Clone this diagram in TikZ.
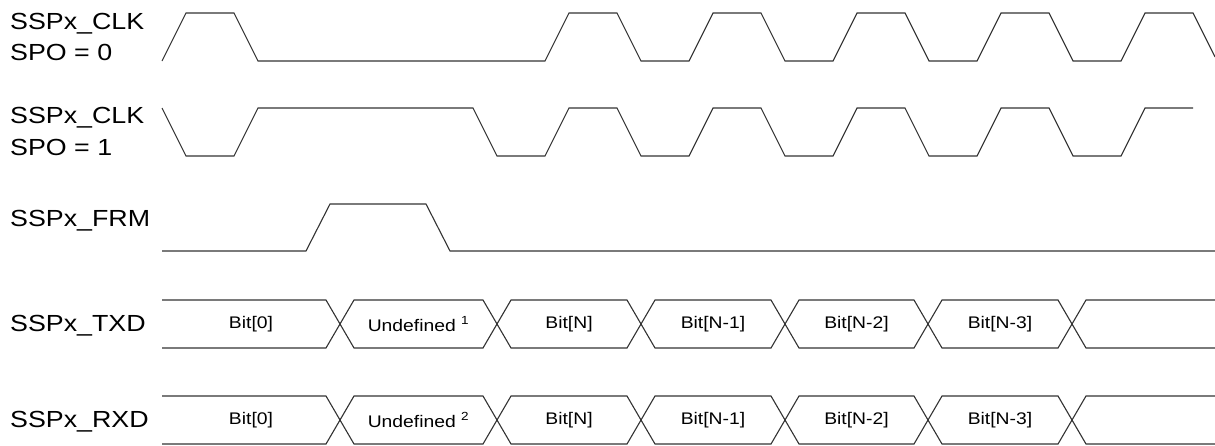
\documentclass[tikz,border=0pt]{standalone}
\usepackage{fontspec}
\setmainfont[FakeStretch=1.15]{Liberation Sans}

\begin{document}
\begin{tikzpicture}[x=1pt, y=-1pt,
    wave/.style={draw=black!80, line width=1.1pt, line join=miter},
    signame/.style={anchor=base west, inner sep=0pt,
      font=\fontsize{23.3}{28}\selectfont},
    bitname/.style={inner sep=0pt, font=\fontsize{16.8}{17}\selectfont}
  ]
  \useasboundingbox (0,0) rectangle (1215,445);

  \node[signame] (clk0) at (10,29.5) {SSPx\_CLK};
  \node[signame] (spo0) at (10,60) {SPO = 0};
  \node[signame] (clk1) at (10,123.5) {SSPx\_CLK};
  \node[signame] (spo1) at (10,155) {SPO = 1};
  \node[signame] (frm) at (10,226) {SSPx\_FRM};

  \draw[wave] (162,61) -- (186,13) -- (234,13) -- (258,61) -- (545,61)
    \foreach \r in {545,689,833,977} {
      -- (\r+24,13) -- (\r+72,13) -- (\r+96,61) -- (\r+144,61) }
    -- (1145,13) -- (1193,13) -- (1215,57);

  \draw[wave] (162,108) -- (186,156) -- (234,156) -- (258,108) -- (473,108)
    -- (497,156) -- (545,156)
    \foreach \r in {545,689,833,977} {
      -- (\r+24,108) -- (\r+72,108) -- (\r+96,156) -- (\r+144,156) }
    -- (1145,108) -- (1193,108);

  \draw[wave] (162,251) -- (306,251) -- (330,204) -- (426,204) -- (450,251)
    -- (1215,251);

  \foreach \y/\row/\lbl/\k in {324/txd/TXD/1, 420/rxd/RXD/2} {
    \node[signame] (\row) at (10,\y+7.5) {SSPx\_\lbl};
    \draw[wave] (162,\y-24) -- (326,\y-24) -- (340,\y) -- (326,\y+24)
      -- (162,\y+24);
    \node[bitname] (\row-0) at (251,\y) {Bit[0]};
    \foreach \a/\b/\t [count=\i] in {340/497/{Undefined \textsuperscript{\k}},
        497/641/{Bit[N]}, 641/785/{Bit[N-1]}, 785/928/{Bit[N-2]},
        928/1072/{Bit[N-3]}} {
      \draw[wave] (\a,\y) -- (\a+14,\y-24) -- (\b-14,\y-24) -- (\b,\y)
        -- (\b-14,\y+24) -- (\a+14,\y+24) -- cycle;
      \node[bitname] (\row-\i) at ({(\a+\b)/2},\y) {\t};
    }
    \draw[wave] (1215,\y-24) -- (1086,\y-24) -- (1072,\y) -- (1086,\y+24)
      -- (1215,\y+24);
  }
\end{tikzpicture}
\end{document}
